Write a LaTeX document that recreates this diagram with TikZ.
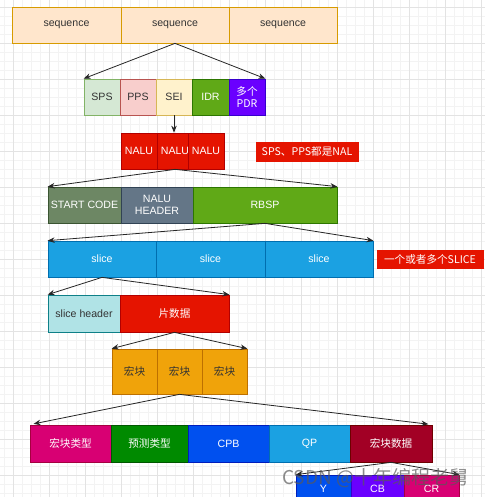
\documentclass[tikz,border=0pt]{standalone}
\usepackage{fontspec}
\setmainfont{Liberation Sans}
\newfontfamily\cjk{Noto Sans CJK SC}
\usetikzlibrary{arrows.meta}
\definecolor{seqf}{HTML}{FFE6CC}\definecolor{seqd}{HTML}{D79B00}
\definecolor{grf}{HTML}{D5E8D4}\definecolor{grd}{HTML}{82B366}
\definecolor{rdf}{HTML}{F8CECC}\definecolor{rdd}{HTML}{B85450}
\definecolor{ylf}{HTML}{FFF2CC}\definecolor{yld}{HTML}{D6B656}
\definecolor{lime}{HTML}{60A917}\definecolor{limed}{HTML}{2D7600}
\definecolor{viol}{HTML}{6A00FF}\definecolor{vield}{HTML}{3700CC}
\definecolor{redf}{HTML}{E51400}\definecolor{redd}{HTML}{B20000}
\definecolor{olive}{HTML}{6D8764}\definecolor{olived}{HTML}{3A5431}
\definecolor{slate}{HTML}{647687}\definecolor{slated}{HTML}{314354}
\definecolor{cyanf}{HTML}{1BA1E2}\definecolor{cyand}{HTML}{006EAF}
\definecolor{tealf}{HTML}{B0E3E6}\definecolor{teald}{HTML}{0E8088}
\definecolor{orgf}{HTML}{F0A30A}\definecolor{orgd}{HTML}{BD7000}
\definecolor{magf}{HTML}{D80073}\definecolor{magd}{HTML}{A50040}
\definecolor{grnf}{HTML}{008A00}\definecolor{grnd}{HTML}{005700}
\definecolor{cobf}{HTML}{0050EF}\definecolor{cobd}{HTML}{001DBC}
\definecolor{crmf}{HTML}{A20025}\definecolor{crmd}{HTML}{6F0000}
\definecolor{txt}{HTML}{333333}
\definecolor{gmaj}{HTML}{E3E3E3}\definecolor{gmin}{HTML}{F3F3F3}
\begin{document}
\begin{tikzpicture}[x=1pt,y=-1pt,
  box/.style={draw, inner sep=0pt, align=center, line width=0.7pt,
    font=\fontsize{10.6}{11.5}\selectfont},
  cbox/.style={box, font=\cjk\fontsize{10.6}{11.5}\selectfont},
  wt/.style={text=white},
  arr/.style={draw=black!85, line width=0.8pt, -{Stealth[length=7pt,width=5.5pt]}},
  gminor/.style={draw=gmin, line width=0.6pt},
  gmajor/.style={draw=gmaj, line width=0.8pt}]
\useasboundingbox (0,0) rectangle (485,497);
\clip (0,0) rectangle (485,497);
\fill[white] (0,0) rectangle (485,497);
% grid
\draw[gminor] \foreach \x in {4,13,...,485} {(\x,0)--(\x,497)};
\draw[gminor] \foreach \y in {7,16,...,497} {(0,\y)--(485,\y)};
\draw[gmajor] \foreach \x in {13,49,...,485} {(\x,0)--(\x,497)};
\draw[gmajor] \foreach \y in {7,43,...,497} {(0,\y)--(485,\y)};

% sequence row
\node[box, fill=seqf, draw=seqd, text=txt, minimum width=109pt, minimum height=36pt] (seq1) at (66.5,25) {sequence};
\node[box, fill=seqf, draw=seqd, text=txt, minimum width=108pt, minimum height=36pt] (seq2) at (175,25) {sequence};
\node[box, fill=seqf, draw=seqd, text=txt, minimum width=108pt, minimum height=36pt] (seq3) at (283,25) {sequence};

% SPS row
\node[box, fill=grf, draw=grd, text=txt, minimum width=36pt, minimum height=36pt] (sps) at (102,97) {SPS};
\node[box, fill=rdf, draw=rdd, text=txt, minimum width=36pt, minimum height=36pt] (pps) at (138,97) {PPS};
\node[box, fill=ylf, draw=yld, text=txt, minimum width=36pt, minimum height=36pt] (sei) at (174,97) {SEI};
\node[box, fill=lime, draw=limed, wt, minimum width=37pt, minimum height=36pt] (idr) at (210.5,97) {IDR};
\node[cbox, fill=viol, draw=vield, wt, minimum width=36pt, minimum height=36pt] (pdr) at (247,97) {多个\\PDR};

% NALU row
\node[box, fill=redf, draw=redd, wt, minimum width=36pt, minimum height=36pt] (n1) at (139,151) {NALU};
\node[box, fill=redf, draw=redd, wt, minimum width=36pt, minimum height=36pt] (n2) at (175,151) {NALU};
\node[box, fill=redf, draw=redd, wt, minimum width=36pt, minimum height=36pt] (n3) at (206,151) {NALU};
\node[cbox, fill=redf, draw=redf, wt, minimum width=102pt, minimum height=19pt] (note1) at (307,151.5) {SPS、PPS都是NAL};

% START CODE row
\node[box, fill=olive, draw=olived, wt, minimum width=73pt, minimum height=36pt] (sc) at (84.5,205) {START CODE};
\node[box, fill=slate, draw=slated, wt, minimum width=72pt, minimum height=36pt] (nh) at (157,205) {NALU\\HEADER};
\node[box, fill=lime, draw=limed, wt, minimum width=144pt, minimum height=36pt] (rbsp) at (265,205) {RBSP};

% slice row
\node[box, fill=cyanf, draw=cyand, wt, minimum width=108pt, minimum height=36pt] (sl1) at (102,259) {slice};
\node[box, fill=cyanf, draw=cyand, wt, minimum width=109pt, minimum height=36pt] (sl2) at (210.5,259) {slice};
\node[box, fill=cyanf, draw=cyand, wt, minimum width=108pt, minimum height=36pt] (sl3) at (319,259) {slice};
\node[cbox, fill=redf, draw=redf, wt, minimum width=106pt, minimum height=18pt] (note2) at (430,259) {一个或者多个SLICE};

% slice header row
\node[box, fill=tealf, draw=teald, text=txt, minimum width=72pt, minimum height=37pt] (sh) at (84,313.5) {slice header};
\node[cbox, fill=redf, draw=redd, wt, minimum width=109pt, minimum height=37pt] (pd) at (174.5,313.5) {片数据};

% macroblock row
\node[cbox, fill=orgf, draw=orgd, text=txt, minimum width=45pt, minimum height=45pt] (mb1) at (134.5,371.5) {宏块};
\node[cbox, fill=orgf, draw=orgd, text=txt, minimum width=45pt, minimum height=45pt] (mb2) at (179.5,371.5) {宏块};
\node[cbox, fill=orgf, draw=orgd, text=txt, minimum width=45pt, minimum height=45pt] (mb3) at (224.5,371.5) {宏块};

% bottom row
\node[cbox, fill=magf, draw=magd, wt, minimum width=81pt, minimum height=37pt] (mbt) at (70.5,443.5) {宏块类型};
\node[cbox, fill=grnf, draw=grnd, wt, minimum width=77pt, minimum height=37pt] (pt) at (149.5,443.5) {预测类型};
\node[box, fill=cobf, draw=cobd, wt, minimum width=81pt, minimum height=37pt] (cpb) at (228.5,443.5) {CPB};
\node[box, fill=cyanf, draw=cyand, wt, minimum width=81pt, minimum height=37pt] (qp) at (309.5,443.5) {QP};
\node[cbox, fill=crmf, draw=crmd, wt, minimum width=82pt, minimum height=37pt] (mbd) at (391,443.5) {宏块数据};

% YCbCr row (cut off)
\node[box, fill=cobf, draw=cobd, wt, minimum width=55pt, minimum height=28pt] (yy) at (323.5,489) {Y};
\node[box, fill=viol, draw=vield, wt, minimum width=53pt, minimum height=28pt] (cb) at (377.5,489) {CB};
\node[box, fill=magf, draw=magd, wt, minimum width=55pt, minimum height=28pt] (cr) at (431.5,489) {CR};

% connectors
\draw[arr] (seq2.south) -- (sps.north west);
\draw[arr] (seq2.south) -- (pdr.north east);
\draw[arr] (sei.south) -- (n2.north -| sei.south);
\draw[arr] (n2.south) -- (sc.north west);
\draw[arr] (n2.south) -- (rbsp.north east);
\draw[arr] (rbsp.south) -- (sl1.north west);
\draw[arr] (rbsp.south) -- (sl3.north east);
\draw[arr] (sl1.south) -- (sh.north west);
\draw[arr] (sl1.south) -- (pd.north east);
\draw[arr] (pd.south) -- (mb1.north west);
\draw[arr] (pd.south) -- (mb3.north east);
\draw[arr, shorten >=4pt] (mb2.south) -- (mbt.north west);
\draw[arr, shorten >=4pt] (mb2.south) -- (mbd.north east);
\draw[arr] (mbd.south) -- (yy.north west);
\draw[arr] (mbd.south) -- (cr.north east);

% watermark
\node[font=\cjk\fontsize{19}{19}\selectfont, text=black!65, opacity=0.7, anchor=west, inner sep=0pt] (wm) at (282,478) {CSDN @十年编程老舅};
\end{tikzpicture}
\end{document}
